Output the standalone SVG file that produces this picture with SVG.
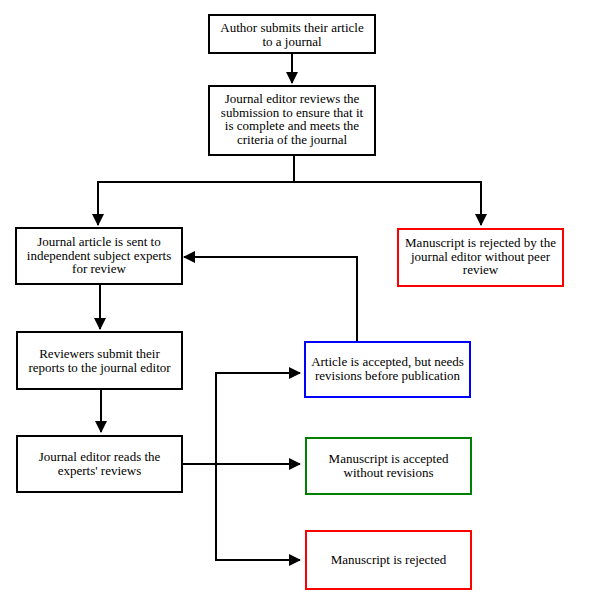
<svg xmlns="http://www.w3.org/2000/svg" width="589" height="608" viewBox="0 0 589 608">
<style>
.box{fill:#fff;stroke-width:2}
.k{stroke:#000}
.r{stroke:#ff0000}
.b{stroke:#0000ff}
.g{stroke:#008000}
text{font-family:"Liberation Serif","Times New Roman",serif;font-size:13px;fill:#000;text-anchor:middle}
.c{fill:none;stroke:#000;stroke-width:2}
</style>
<defs>
<marker id="ah" markerWidth="12" markerHeight="12" refX="11" refY="6" orient="auto" markerUnits="userSpaceOnUse" viewBox="0 0 12 12">
<path d="M0,0 L12,6 L0,12 Z" fill="#000"/>
</marker>
</defs>
<rect width="589" height="608" fill="#fff"/>
<g id="connectors">
<path class="c" d="M292,53 V83" marker-end="url(#ah)"/>
<path class="c" d="M294,155 V182 H98 V225" marker-end="url(#ah)"/>
<path class="c" d="M294,182 H481 V225" marker-end="url(#ah)"/>
<path class="c" d="M100,284 V329" marker-end="url(#ah)"/>
<path class="c" d="M101,389 V432" marker-end="url(#ah)"/>
<path class="c" d="M182,464 H300" marker-end="url(#ah)"/>
<path class="c" d="M300,373 H216 V560 H300" marker-end="url(#ah)"/>
<path class="c" d="M216,373 H300" marker-end="url(#ah)"/>
<path class="c" d="M357,342 V257 H184" marker-end="url(#ah)"/>
</g>
<g id="n1">
<rect class="box k" x="209" y="15" width="166" height="38"/>
<text x="292" y="32">Author submits their article</text>
<text x="292" y="45.5">to a journal</text>
</g>
<g id="n2">
<rect class="box k" x="209" y="86" width="166" height="69"/>
<text x="292" y="103">Journal editor reviews the</text>
<text x="292" y="116.5">submission to ensure that it</text>
<text x="292" y="130">is complete and meets the</text>
<text x="292" y="143.5">criteria of the journal</text>
</g>
<g id="n3">
<rect class="box k" x="16" y="228" width="166" height="56"/>
<text x="99" y="246">Journal article is sent to</text>
<text x="99" y="259.5">independent subject experts</text>
<text x="99" y="273">for review</text>
</g>
<g id="n4">
<rect class="box r" x="398" y="229" width="165" height="57"/>
<text x="480.5" y="247">Manuscript is rejected by the</text>
<text x="480.5" y="260.5">journal editor without peer</text>
<text x="480.5" y="274">review</text>
</g>
<g id="n5">
<rect class="box k" x="17" y="332" width="165" height="57"/>
<text x="99.5" y="358">Reviewers submit their</text>
<text x="99.5" y="371.5">reports to the journal editor</text>
</g>
<g id="n6">
<rect class="box b" x="305" y="342" width="165" height="55"/>
<text x="387.5" y="366">Article is accepted, but needs</text>
<text x="387.5" y="379.5">revisions before publication</text>
</g>
<g id="n7">
<rect class="box k" x="17" y="436" width="165" height="56"/>
<text x="99.5" y="461">Journal editor reads the</text>
<text x="99.5" y="474.5">experts' reviews</text>
</g>
<g id="n8">
<rect class="box g" x="306" y="438" width="165" height="56"/>
<text x="388.5" y="463">Manuscript is accepted</text>
<text x="388.5" y="476.5">without revisions</text>
</g>
<g id="n9">
<rect class="box r" x="306" y="531" width="165" height="58"/>
<text x="388.5" y="564">Manuscript is rejected</text>
</g>
</svg>
